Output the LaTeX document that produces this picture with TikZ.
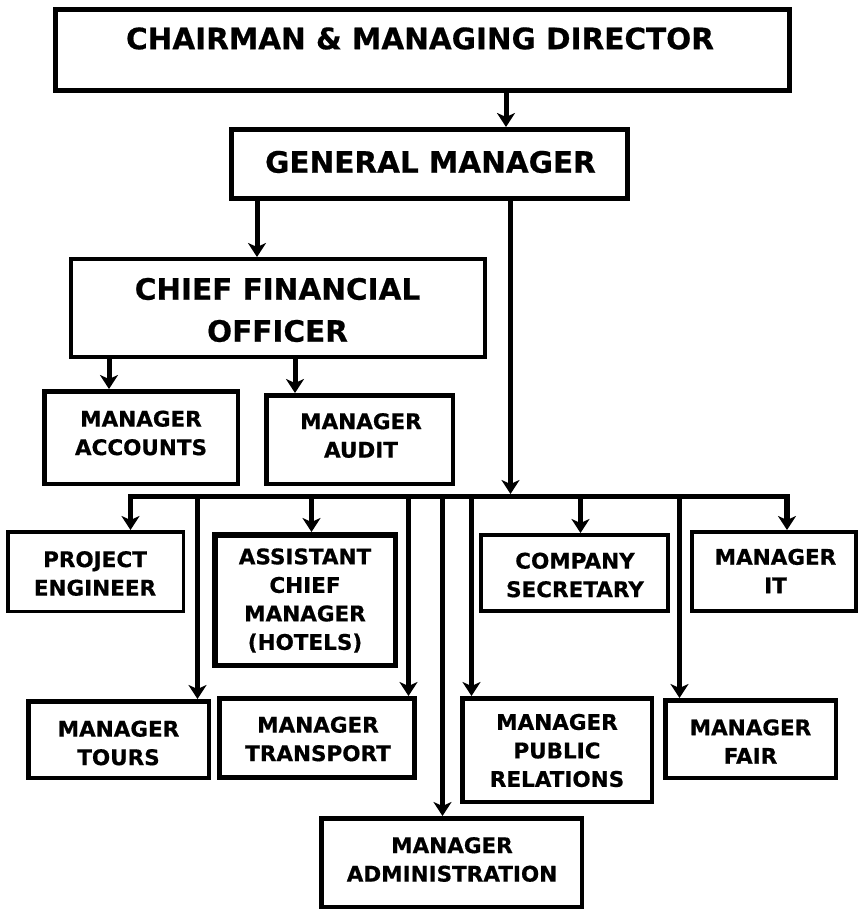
\documentclass[tikz,border=0pt]{standalone}
\usepackage{fontspec}
\setmainfont{DejaVu Sans}[BoldFeatures={FakeBold=0.6}]
\usetikzlibrary{arrows.meta}
\begin{document}
\begin{tikzpicture}[x=1pt,y=-1pt,
  box/.style={draw=black, rectangle, inner sep=0pt},
  bigtext/.style={font=\fontsize{29.5}{42}\selectfont\bfseries, align=center, inner sep=0pt},
  smalltext/.style={font=\fontsize{21.5}{28.5}\selectfont\bfseries, align=center, inner sep=0pt},
  tip/.tip={Stealth[length=14pt,width=18pt,inset=4pt]},
  conn/.style={line width=5pt, -tip},
  busline/.style={line width=5.5pt, tip-tip, line join=miter},
]
\useasboundingbox (0,0) rectangle (858,911);
\fill[white] (0,0) rectangle (858,911);

% --- top management ---
\node[box, line width=5pt, minimum width=734pt, minimum height=81pt] (cmd) at (422.5,50) {};
\node[bigtext] (cmd-t) at (420,38.5) {CHAIRMAN \& MANAGING DIRECTOR};

\node[box, line width=5pt, minimum width=396pt, minimum height=69pt] (gm) at (429.5,164) {};
\node[bigtext] (gm-t) at (430.5,162) {GENERAL MANAGER};

\node[box, line width=4pt, minimum width=414pt, minimum height=98pt] (cfo) at (278,308) {};
\node[bigtext] (cfo-t) at (277.5,310) {CHIEF FINANCIAL\\OFFICER};

% --- finance ---
\node[box, line width=4.5pt, minimum width=193.5pt, minimum height=92.5pt] (acc) at (141,437.5) {};
\node[smalltext] (acc-t) at (141,433) {MANAGER\\ACCOUNTS};

\node[box, line width=4.5pt, minimum width=186.5pt, minimum height=88.5pt] (aud) at (359.5,439.5) {};
\node[smalltext] (aud-t) at (361,435.5) {MANAGER\\AUDIT};

% --- first row under the bus ---
\node[box, line width=3.5pt, minimum width=175.5pt, minimum height=79.5pt] (pe) at (95.5,571.5) {};
\node[smalltext] (pe-t) at (95,573.5) {PROJECT\\ENGINEER};

\node[box, line width=5.5pt, minimum width=180.5pt, minimum height=130.5pt] (acm) at (305,600) {};
\node[smalltext] (acm-t) at (305,600.5) {ASSISTANT\\CHIEF\\MANAGER\\(HOTELS)};

\node[box, line width=4pt, minimum width=187pt, minimum height=76pt] (cs) at (574.5,573) {};
\node[smalltext] (cs-t) at (575,575) {COMPANY\\SECRETARY};

\node[box, line width=4pt, minimum width=164pt, minimum height=79pt] (it) at (774,571.5) {};
\node[smalltext] (it-t) at (775.5,571) {MANAGER\\IT};

% --- second row ---
\node[box, line width=4.5pt, minimum width=180.5pt, minimum height=76.5pt] (tours) at (118.5,739.5) {};
\node[smalltext] (tours-t) at (118.5,743) {MANAGER\\TOURS};

\node[box, line width=5pt, minimum width=195pt, minimum height=79pt] (trans) at (317,738) {};
\node[smalltext] (trans-t) at (318,739) {MANAGER\\TRANSPORT};

\node[box, line width=4.5pt, minimum width=189.5pt, minimum height=103.5pt] (pr) at (557,750) {};
\node[smalltext] (pr-t) at (557,750.5) {MANAGER\\PUBLIC\\RELATIONS};

\node[box, line width=4.5pt, minimum width=170.5pt, minimum height=77.5pt] (fair) at (750.5,739) {};
\node[smalltext] (fair-t) at (750.5,741.5) {MANAGER\\FAIR};

\node[box, line width=4.5pt, minimum width=260.5pt, minimum height=88.5pt] (adm) at (451.5,862.5) {};
\node[smalltext] (adm-t) at (452,859.5) {MANAGER\\ADMINISTRATION};

% --- connector columns and bus points ---
\coordinate (xcmd) at (506,0);
\coordinate (xcfo) at (257,0);
\coordinate (xacc) at (109,0);
\coordinate (xaud) at (295,0);
\coordinate (bgm)  at (510.5,494);
\coordinate (bl)   at (130.5,496.5);
\coordinate (br)   at (787,496.5);
\coordinate (btou) at (197.5,496.5);
\coordinate (bacm) at (311.5,496.5);
\coordinate (btra) at (408.5,496.5);
\coordinate (badm) at (442.5,496.5);
\coordinate (bpr)  at (471.5,496.5);
\coordinate (bcs)  at (580.5,496.5);
\coordinate (bfai) at (679.5,496.5);

% --- connectors ---
\draw[conn] (cmd.south -| xcmd) -- (gm.north -| xcmd);
\draw[conn] (gm.south -| xcfo) -- (cfo.north -| xcfo);
\draw[conn] (gm.south -| bgm) -- (bgm);
\draw[conn] (cfo.south -| xacc) -- (acc.north -| xacc);
\draw[conn] (cfo.south -| xaud) -- (aud.north -| xaud);

\draw[busline] (pe.north -| bl) -- (bl) -- (br) -- (it.north -| br);

\draw[conn] (bacm) -- (acm.north -| bacm);
\draw[conn] (bcs) -- (cs.north -| bcs);
\draw[conn] (btou) -- (tours.north -| btou);
\draw[conn] (btra) -- (trans.north -| btra);
\draw[conn] (badm) -- (adm.north -| badm);
\draw[conn] (bpr) -- (pr.north -| bpr);
\draw[conn] (bfai) -- (fair.north -| bfai);
\end{tikzpicture}
\end{document}
